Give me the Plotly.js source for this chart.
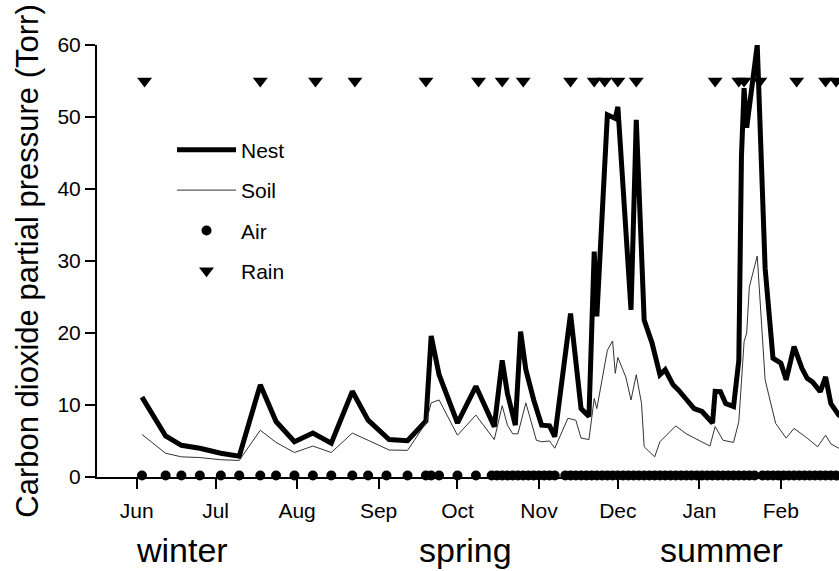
<!DOCTYPE html>
<html>
<head>
<meta charset="utf-8">
<script src="https://cdn.plot.ly/plotly-3.0.1.min.js"></script>
<style>html,body{margin:0;padding:0;background:#fff;}#chart{width:839px;height:571px;}</style>
</head>
<body>
<div id="chart"></div>
<script>
// ---- data ----
const nestDates = ['1996-06-03','1996-06-12','1996-06-18','1996-06-25','1996-07-03','1996-07-10','1996-07-18','1996-07-24','1996-07-31',
  '1996-08-07','1996-08-14','1996-08-22','1996-08-28','1996-09-05','1996-09-12','1996-09-19','1996-09-21','1996-09-24',
  '1996-10-01','1996-10-08','1996-10-15','1996-10-18','1996-10-20','1996-10-23','1996-10-25','1996-10-27','1996-10-30',
  '1996-11-02','1996-11-05','1996-11-07','1996-11-13','1996-11-17','1996-11-20','1996-11-22','1996-11-23','1996-11-27','1996-11-30',
  '1996-12-01','1996-12-06','1996-12-08','1996-12-11','1996-12-14','1996-12-17','1996-12-19','1996-12-22','1996-12-24','1996-12-27','1996-12-30',
  '1997-01-02','1997-01-06','1997-01-07','1997-01-09','1997-01-11','1997-01-14','1997-01-16','1997-01-17','1997-01-18','1997-01-19','1997-01-23',
  '1997-01-26','1997-01-29','1997-02-01','1997-02-03','1997-02-06','1997-02-09','1997-02-11','1997-02-13','1997-02-16','1997-02-18','1997-02-20','1997-02-23','1997-02-26'];
const nestValues = [11.1,5.7,4.4,4.0,3.3,2.9,12.8,7.7,4.9,
  6.1,4.7,11.9,7.9,5.2,5.05,7.8,19.6,14.2,
  7.5,12.6,7.0,16.2,11.6,7.2,20.2,14.9,10.7,
  7.2,7.1,5.6,22.7,9.5,8.4,31.3,22.3,50.3,49.8,
  51.4,23.2,49.6,21.8,18.6,14.2,14.9,12.8,12.1,10.8,9.5,
  9.1,7.5,11.9,11.85,10.2,9.8,16.2,44.5,54,48.5,60,
  29,16.5,15.8,13.5,18.1,15.1,13.7,13.2,11.85,13.9,10.2,8.6,8.0];

const soilDates = ['1996-06-03','1996-06-12','1996-06-18','1996-06-25','1996-07-03','1996-07-10','1996-07-18','1996-07-24','1996-07-31',
  '1996-08-07','1996-08-14','1996-08-22','1996-08-28','1996-09-05','1996-09-12','1996-09-19','1996-09-21','1996-09-24',
  '1996-10-01','1996-10-08','1996-10-15','1996-10-18','1996-10-20','1996-10-22','1996-10-24','1996-10-27','1996-10-31',
  '1996-11-02','1996-11-05','1996-11-07','1996-11-12','1996-11-15','1996-11-17','1996-11-20','1996-11-22','1996-11-23','1996-11-27','1996-11-29','1996-11-30',
  '1996-12-01','1996-12-04','1996-12-06','1996-12-08','1996-12-10','1996-12-11','1996-12-15','1996-12-17','1996-12-23','1996-12-27',
  '1997-01-05','1997-01-07','1997-01-10','1997-01-14','1997-01-16','1997-01-18','1997-01-19','1997-01-20','1997-01-23','1997-01-26','1997-01-30',
  '1997-02-03','1997-02-06','1997-02-11','1997-02-15','1997-02-18','1997-02-20','1997-02-23','1997-02-26'];
const soilValues = [5.9,3.3,2.8,2.7,2.4,2.3,6.5,4.8,3.4,
  4.3,3.4,6.1,5.1,3.75,3.7,7.5,10.3,10.7,
  5.8,8.6,5.2,9.9,7.2,6.0,6.0,10.3,5.1,
  4.9,5.0,4.0,8.15,7.9,5.4,5.2,10.9,9.5,17.6,18.9,14.4,
  16.6,13.9,10.7,14.2,10.2,4.2,2.8,4.9,7.1,6.0,
  4.3,7.0,5.1,4.8,7.7,18.8,20,26.4,30.7,13.5,7.45,
  5.4,6.75,5.4,4.2,5.8,4.6,4.0,3.8];

const airDates = ['1996-06-03','1996-06-12','1996-06-18','1996-06-25','1996-07-03','1996-07-10','1996-07-18','1996-07-24','1996-07-31',
  '1996-08-07','1996-08-14','1996-08-22','1996-08-28','1996-09-04','1996-09-12','1996-09-19','1996-09-21','1996-09-24',
  '1996-10-01','1996-10-08','1996-10-14','1996-10-16','1996-10-18','1996-10-20','1996-10-22','1996-10-24','1996-10-26','1996-10-28','1996-10-30',
  '1996-11-01','1996-11-03','1996-11-05','1996-11-07','1996-11-11','1996-11-13','1996-11-15','1996-11-17','1996-11-19','1996-11-21','1996-11-23',
  '1996-11-25','1996-11-27','1996-11-29','1996-12-01','1996-12-03','1996-12-05','1996-12-07','1996-12-09','1996-12-11','1996-12-13','1996-12-15',
  '1996-12-17','1996-12-19','1996-12-21','1996-12-23','1996-12-25','1996-12-27','1996-12-29','1996-12-31','1997-01-02','1997-01-04','1997-01-06',
  '1997-01-08','1997-01-10','1997-01-12','1997-01-14','1997-01-16','1997-01-18','1997-01-20','1997-01-22','1997-01-25','1997-01-27','1997-01-29',
  '1997-01-31','1997-02-02','1997-02-04','1997-02-06','1997-02-08','1997-02-10','1997-02-12','1997-02-14','1997-02-16','1997-02-18','1997-02-20','1997-02-22','1997-02-24'];
const airLevel = 0.2;
const airValues = airDates.map(() => airLevel);

const rainDates = ['1996-06-04','1996-07-18','1996-08-08','1996-08-23','1996-09-19','1996-10-09','1996-10-18','1996-10-26',
  '1996-11-13','1996-11-22','1996-11-26','1996-12-01','1996-12-08','1997-01-07','1997-01-16','1997-01-18','1997-01-24',
  '1997-02-07','1997-02-18','1997-02-22'];
const rainLevel = 55;
const rainValues = rainDates.map(() => rainLevel);

const monthTicks = ['1996-06-01','1996-07-01','1996-08-01','1996-09-01','1996-10-01','1996-11-01','1996-12-01','1997-01-01','1997-02-01'];
const monthLabels = ['Jun','Jul','Aug','Sep','Oct','Nov','Dec','Jan','Feb'];
const yTicks = [0,10,20,30,40,50,60];
const seasons = ['winter','spring','summer'];

// ---- chart ----
const FONT = 'Liberation Sans, Arial, Helvetica, sans-serif';
const xRange = ['1996-05-16 21:36','1997-02-23 02:24'];

const traces = [
  {x: nestDates, y: nestValues, name: 'Nest', mode: 'lines', legendgroup: 'g1',
   line: {color: '#000', width: 5}, hoverinfo: 'skip'},
  {x: soilDates, y: soilValues, name: 'Soil', mode: 'lines', legendgroup: 'g2',
   line: {color: '#333', width: 1}, hoverinfo: 'skip'},
  {x: airDates, y: airValues, name: 'Air', mode: 'markers', legendgroup: 'g3', cliponaxis: false,
   marker: {color: '#000', size: 10, symbol: 'circle'}, hoverinfo: 'skip'},
  {x: rainDates, y: rainValues, name: 'Rain', mode: 'markers', legendgroup: 'g4', cliponaxis: false,
   marker: {color: '#000', size: 13, symbol: 'triangle-down'}, hoverinfo: 'skip'}
];

const seasonX = [0.1146, 0.496, 0.842];
const annotations = seasons.map((s, i) => ({
  text: s, xref: 'paper', yref: 'paper', x: seasonX[i], y: -0.2153,
  xanchor: 'center', yanchor: 'bottom', showarrow: false, borderpad: 0,
  font: {family: FONT, size: 34, color: '#000'}
}));

const layout = {
  width: 839, height: 571,
  margin: {l: 97, r: 0, t: 45, b: 94, pad: 0},
  paper_bgcolor: '#fff', plot_bgcolor: '#fff',
  font: {family: FONT, color: '#000', size: 21},
  showlegend: true,
  legend: {x: 0.1011, y: 0.804, xanchor: 'left', yanchor: 'top', bgcolor: 'rgba(0,0,0,0)',
           font: {family: FONT, size: 21, color: '#000'}, itemwidth: 59, tracegroupgap: 10},
  xaxis: {type: 'date', range: xRange, tickvals: monthTicks, ticktext: monthLabels,
          ticks: 'outside', ticklen: 10, tickwidth: 2, tickcolor: '#000', ticklabelstandoff: 4,
          showline: true, linewidth: 2, linecolor: '#000', showgrid: false, zeroline: false,
          tickfont: {family: FONT, size: 21, color: '#000'}, fixedrange: true},
  xaxis2: {type: 'date', overlaying: 'x', side: 'top', matches: 'x', range: xRange,
           tickvals: monthTicks, ticks: 'inside', ticklen: 10, tickwidth: 2, tickcolor: '#000',
           showline: true, linewidth: 2, linecolor: '#000', showgrid: false, zeroline: false,
           showticklabels: false},
  yaxis: {range: [0, 60], tickvals: yTicks, ticks: 'outside', ticklen: 10, tickwidth: 2, tickcolor: '#000',
          showline: true, linewidth: 2, linecolor: '#000', showgrid: false, zeroline: false,
          tickfont: {family: FONT, size: 21, color: '#000'}, fixedrange: true,
          title: {text: 'Carbon dioxide partial pressure (Torr)', font: {family: FONT, size: 31, color: '#000'}, standoff: 10}},
  annotations: annotations
};

Plotly.newPlot('chart', traces, layout, {displayModeBar: false, staticPlot: true});
</script>
</body>
</html>
